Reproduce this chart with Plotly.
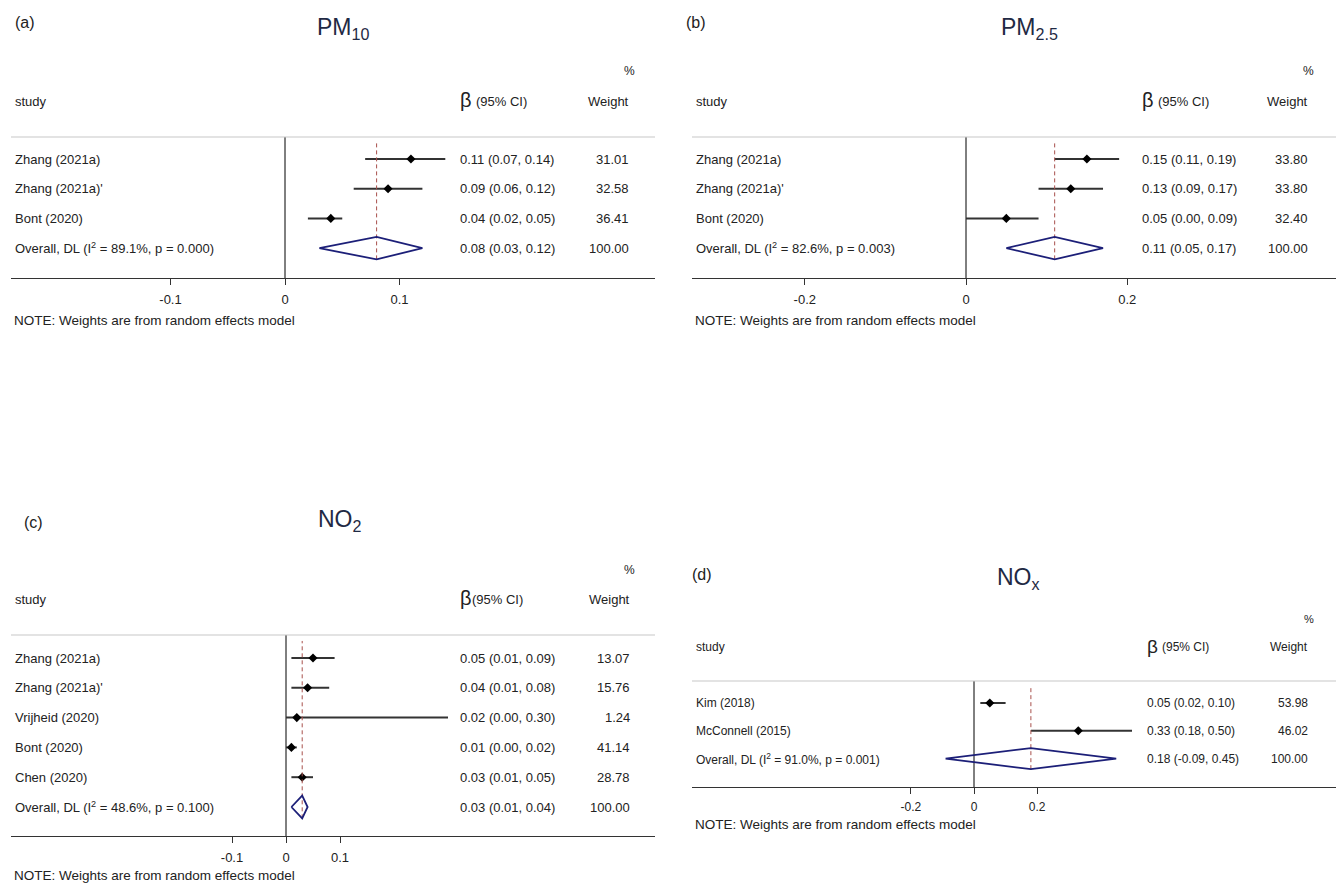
import plotly.graph_objects as go

W, H = 1336, 884

# ---------------- data ----------------
pm10_studies = ["Zhang (2021a)", "Zhang (2021a)'", "Bont (2020)"]
pm10_est = [0.11, 0.09, 0.04]
pm10_lo = [0.07, 0.06, 0.02]
pm10_hi = [0.14, 0.12, 0.05]
pm10_wt = [31.01, 32.58, 36.41]
pm10_overall = [0.08, 0.03, 0.12]
pm10_i2, pm10_p = 89.1, 0.000
pm10_ticks = [-0.1, 0, 0.1]

pm25_studies = ["Zhang (2021a)", "Zhang (2021a)'", "Bont (2020)"]
pm25_est = [0.15, 0.13, 0.05]
pm25_lo = [0.11, 0.09, 0.00]
pm25_hi = [0.19, 0.17, 0.09]
pm25_wt = [33.80, 33.80, 32.40]
pm25_overall = [0.11, 0.05, 0.17]
pm25_i2, pm25_p = 82.6, 0.003
pm25_ticks = [-0.2, 0, 0.2]

no2_studies = ["Zhang (2021a)", "Zhang (2021a)'", "Vrijheid (2020)", "Bont (2020)", "Chen (2020)"]
no2_est = [0.05, 0.04, 0.02, 0.01, 0.03]
no2_lo = [0.01, 0.01, 0.00, 0.00, 0.01]
no2_hi = [0.09, 0.08, 0.30, 0.02, 0.05]
no2_wt = [13.07, 15.76, 1.24, 41.14, 28.78]
no2_overall = [0.03, 0.01, 0.04]
no2_i2, no2_p = 48.6, 0.100
no2_ticks = [-0.1, 0, 0.1]

nox_studies = ["Kim (2018)", "McConnell (2015)"]
nox_est = [0.05, 0.33]
nox_lo = [0.02, 0.18]
nox_hi = [0.10, 0.50]
nox_wt = [53.98, 46.02]
nox_overall = [0.18, -0.09, 0.45]
nox_i2, nox_p = 91.0, 0.001
nox_ticks = [-0.2, 0, 0.2]

panels = [
    dict(tag="(a)", title="PM<sub>10</sub>",
         studies=pm10_studies, est=pm10_est, lo=pm10_lo, hi=pm10_hi, wt=pm10_wt,
         overall=pm10_overall, i2=pm10_i2, p=pm10_p, ticks=pm10_ticks),
    dict(tag="(b)", title="PM<sub>2.5</sub>",
         studies=pm25_studies, est=pm25_est, lo=pm25_lo, hi=pm25_hi, wt=pm25_wt,
         overall=pm25_overall, i2=pm25_i2, p=pm25_p, ticks=pm25_ticks),
    dict(tag="(c)", title="NO<sub>2</sub>",
         studies=no2_studies, est=no2_est, lo=no2_lo, hi=no2_hi, wt=no2_wt,
         overall=no2_overall, i2=no2_i2, p=no2_p, ticks=no2_ticks),
    dict(tag="(d)", title="NO<sub>x</sub>",
         studies=nox_studies, est=nox_est, lo=nox_lo, hi=nox_hi, wt=nox_wt,
         overall=nox_overall, i2=nox_i2, p=nox_p, ticks=nox_ticks),
]

# ---------------- layout geometry (pixels) ----------------
geoms = [
    dict(x0=11, x1=655, zero=285, ppu=1145, top=137, row0=159, sp=29.7, bottom=278,
         sx=13, vx=458, bgap=16, wr=631, pr=637, py=71, hy=101, lab=(13, 22), tit=(315, 29), ny=320, fs=13),
    dict(x0=692, x1=1336, zero=966, ppu=806, top=137, row0=159, sp=29.7, bottom=278,
         sx=694, vx=1140, bgap=16, wr=1310, pr=1316, py=71, hy=101, lab=(684, 22), tit=(999, 29), ny=320, fs=13),
    dict(x0=11, x1=655, zero=286, ppu=540, top=635, row0=658, sp=29.8, bottom=836,
         sx=13, vx=458, bgap=12, wr=632, pr=637, py=570, hy=599, lab=(22, 522), tit=(316, 520), ny=875, fs=13),
    dict(x0=692, x1=1336, zero=974, ppu=316, top=681, row0=703, sp=27.8, bottom=787,
         sx=694, vx=1145, bgap=15, wr=1310, pr=1316, py=619, hy=647, lab=(690, 574), tit=(995, 578), ny=824, fs=12),
]

FONT = "Arial, Liberation Sans, sans-serif"
TXT = "#222222"
TITLE_C = "#1f2a44"
CI_C = "#333333"
DIAMOND_C = "#1c1f78"
DASH_C = "#a8504c"


def PX(x):
    return x / W


def PY(y):
    return 1 - y / H


def fmt_ci(e, l, h):
    return f"{e:.2f} ({l:.2f}, {h:.2f})"


fig = go.Figure()
annotations = []
shapes = []

for i, (p, g) in enumerate(zip(panels, geoms)):
    k = "" if i == 0 else str(i + 1)
    xa, ya = "x" + k, "y" + k
    n = len(p["studies"]) + 1  # rows incl. overall
    rows = [n - j for j in range(len(p["studies"]))]
    ov_row = 1
    last_px = g["row0"] + (n - 1) * g["sp"]
    y_lo = 1 - (g["bottom"] - last_px) / g["sp"]
    y_hi = n + (g["row0"] - g["top"]) / g["sp"]
    x_lo = (g["x0"] - g["zero"]) / g["ppu"]
    x_hi = (g["x1"] - g["zero"]) / g["ppu"]
    fs = g["fs"]

    # zero line
    fig.add_trace(go.Scatter(x=[0, 0], y=[y_lo, y_hi], mode="lines",
                             line=dict(color="black", width=1), xaxis=xa, yaxis=ya, hoverinfo="skip"))
    # CI lines
    cx, cy = [], []
    for r, l, h in zip(rows, p["lo"], p["hi"]):
        cx += [l, h, None]
        cy += [r, r, None]
    fig.add_trace(go.Scatter(x=cx, y=cy, mode="lines", line=dict(color=CI_C, width=2),
                             xaxis=xa, yaxis=ya, hoverinfo="skip"))
    # point estimates
    fig.add_trace(go.Scatter(x=p["est"], y=rows, mode="markers",
                             marker=dict(symbol="diamond", size=7, color="black"),
                             xaxis=xa, yaxis=ya, hoverinfo="skip"))
    # overall dashed line
    oe, ol, oh = p["overall"]
    hh = 0.38
    fig.add_trace(go.Scatter(x=[oe, oe], y=[ov_row - hh, y_hi - 0.2], mode="lines",
                             line=dict(color=DASH_C, width=1, dash="4px,3px"),
                             xaxis=xa, yaxis=ya, hoverinfo="skip"))
    # overall diamond
    fig.add_trace(go.Scatter(x=[ol, oe, oh, oe, ol], y=[ov_row, ov_row + hh, ov_row, ov_row - hh, ov_row],
                             mode="lines", line=dict(color=DIAMOND_C, width=1.8),
                             xaxis=xa, yaxis=ya, hoverinfo="skip"))

    axis_num = "" if i == 0 else str(i + 1)
    fig.layout["xaxis" + axis_num] = dict(
        domain=[PX(g["x0"]), PX(g["x1"])], range=[x_lo, x_hi], anchor=ya,
        showgrid=False, zeroline=False, showline=True, linecolor="#333333", linewidth=1,
        ticks="outside", ticklen=6, tickcolor="#333333", tickwidth=1, ticklabelstandoff=3,
        tickvals=p["ticks"], ticktext=[f"{t:g}" for t in p["ticks"]],
        tickfont=dict(family=FONT, size=fs, color=TXT), fixedrange=True)
    fig.layout["yaxis" + axis_num] = dict(
        domain=[PY(g["bottom"]), PY(g["top"])], range=[y_lo, y_hi], anchor=xa,
        visible=False, fixedrange=True)

    # top gray rule
    shapes.append(dict(type="line", xref="paper", yref="paper",
                       x0=PX(g["x0"]), x1=PX(g["x1"]), y0=PY(g["top"]), y1=PY(g["top"]),
                       line=dict(color="#c8c8c8", width=1.2)))

    def ann(text, x, y, xanchor="left", size=fs, color=TXT, yref="paper", yval=None):
        annotations.append(dict(text=text, x=PX(x), xref="paper",
                                y=(PY(y) if yref == "paper" else yval), yref=yref,
                                xanchor=xanchor, yanchor="middle", showarrow=False,
                                font=dict(family=FONT, size=size, color=color)))

    # tag & title
    ann(p["tag"], g["lab"][0], g["lab"][1], size=16)
    ann(p["title"], g["tit"][0], g["tit"][1], size=23, color=TITLE_C)
    # headers
    ann("%", g["pr"], g["py"], xanchor="right", size=fs - 1)
    ann("study", g["sx"], g["hy"])
    ann("β", g["vx"], g["hy"] - 1, size=(20 if fs >= 13 else 19))
    ann("(95% CI)", g["vx"] + g["bgap"], g["hy"])
    ann("Weight", g["wr"], g["hy"], xanchor="right")
    # rows
    for r, s, e, l, h, w in zip(rows, p["studies"], p["est"], p["lo"], p["hi"], p["wt"]):
        ann(s, g["sx"], None, yref=ya, yval=r)
        ann(fmt_ci(e, l, h), g["vx"], None, yref=ya, yval=r)
        ann(f"{w:.2f}", g["wr"], None, xanchor="right", yref=ya, yval=r)
    ann(f"Overall, DL (I<sup>2</sup> = {p['i2']:.1f}%, p = {p['p']:.3f})",
        g["sx"], None, yref=ya, yval=ov_row)
    ann(fmt_ci(oe, ol, oh), g["vx"], None, yref=ya, yval=ov_row)
    ann(f"{100:.2f}", g["wr"], None, xanchor="right", yref=ya, yval=ov_row)
    # note
    ann("NOTE: Weights are from random effects model", g["sx"] - 1, g["ny"], size=13.5)

fig.update_layout(width=W, height=H, margin=dict(l=0, r=0, t=0, b=0),
                  paper_bgcolor="white", plot_bgcolor="white", showlegend=False,
                  annotations=annotations, shapes=shapes,
                  font=dict(family=FONT, color=TXT))

fig.write_html("out.html", config={"displayModeBar": False},
               post_script="document.body.style.margin='0';document.body.style.padding='0';")
